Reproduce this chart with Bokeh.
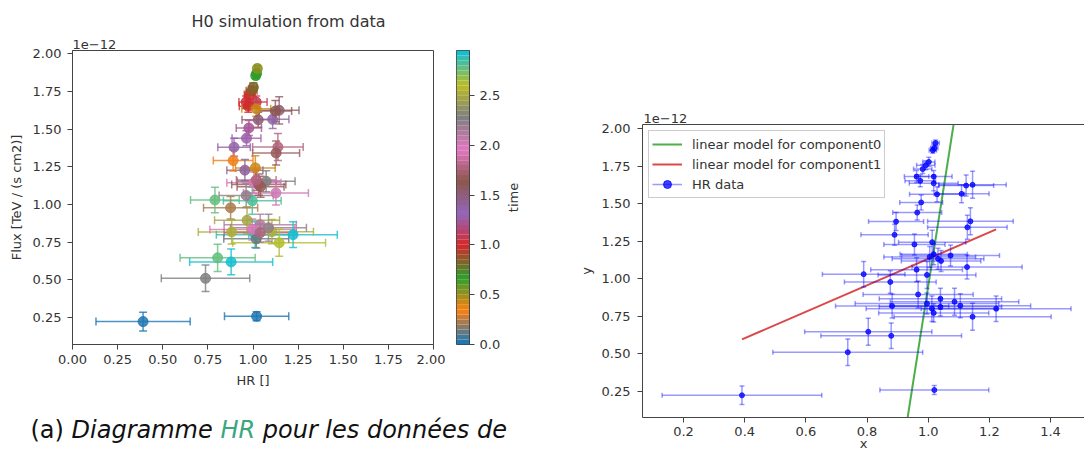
import numpy as np
from bokeh.plotting import figure
from bokeh.models import (FixedTicker, PrintfTickFormatter, Label, Legend, LegendItem,
                          LinearAxis, Range1d, ColumnDataSource, Title)
from bokeh.layouts import row, column
from bokeh.embed import file_html
from bokeh.resources import INLINE

# ---------------- data (flux in units of 1e-12 TeV / (s cm2)) ----------------
hr = [0.391, 1.020, 0.737, 0.804, 0.879, 1.145, 1.222, 1.012, 1.018, 0.882,
      1.105, 0.967, 1.040, 1.086, 0.996, 1.040, 0.876, 0.789, 0.996, 0.962,
      1.127, 1.073, 1.005, 1.032, 1.042, 1.018, 0.955, 1.013, 0.890, 0.895,
      1.138, 1.128, 0.964, 0.977, 1.029, 1.109, 1.145, 1.124, 1.018, 0.962,
      0.974, 1.018, 0.982, 0.992, 1.002, 1.015, 1.020, 1.024]
hr_err = [0.261, 0.178, 0.245, 0.208, 0.230, 0.257, 0.245, 0.215, 0.180, 0.185,
          0.230, 0.180, 0.200, 0.210, 0.235, 0.200, 0.150, 0.135, 0.160, 0.150,
          0.180, 0.160, 0.150, 0.150, 0.130, 0.110, 0.100, 0.110, 0.110, 0.090,
          0.140, 0.130, 0.080, 0.070, 0.090, 0.090, 0.110, 0.090, 0.060, 0.040,
          0.050, 0.080, 0.030, 0.030, 0.020, 0.012, 0.012, 0.012]
flux = [0.223, 0.258, 0.510, 0.646, 0.619, 0.746, 0.800, 0.800, 0.772, 0.818,
        0.820, 0.895, 0.866, 0.846, 0.834, 0.812, 0.978, 1.030, 1.025, 1.060,
        1.077, 1.154, 1.145, 1.132, 1.118, 1.163, 1.228, 1.243, 1.292, 1.380,
        1.382, 1.342, 1.440, 1.508, 1.562, 1.565, 1.625, 1.620, 1.680, 1.680,
        1.652, 1.635, 1.730, 1.755, 1.778, 1.855, 1.870, 1.903]
flux_err = [0.062, 0.030, 0.088, 0.090, 0.085, 0.090, 0.085, 0.085, 0.060, 0.080,
            0.080, 0.090, 0.070, 0.090, 0.070, 0.060, 0.075, 0.085, 0.090, 0.080,
            0.080, 0.070, 0.070, 0.070, 0.070, 0.070, 0.070, 0.080, 0.070, 0.060,
            0.090, 0.080, 0.050, 0.050, 0.050, 0.060, 0.090, 0.070, 0.040, 0.040,
            0.040, 0.050, 0.030, 0.030, 0.030, 0.020, 0.020, 0.020]
time = [0.00, 0.03, 2.30, 2.80, 2.95, 2.60, 2.93, 2.90, 0.10, 2.55,
        2.52, 2.45, 2.10, 2.20, 1.90, 1.75, 0.22, 2.75, 2.82, 2.20,
        2.00, 2.30, 1.90, 1.70, 1.65, 1.80, 1.45, 0.40, 0.35, 1.35,
        1.80, 1.70, 1.25, 1.20, 1.50, 1.35, 1.55, 1.60, 1.05, 1.00,
        0.98, 0.42, 0.95, 0.88, 0.80, 0.70, 0.65, 0.50]

comp0_x = [0.920, 1.095]
comp0_y = [-0.090, 2.183]
comp1_x = [0.391, 1.222]
comp1_y = [0.595, 1.328]

left_x_ticks = [0.0, 0.25, 0.5, 0.75, 1.0, 1.25, 1.5, 1.75, 2.0]
flux_ticks = [0.25, 0.5, 0.75, 1.0, 1.25, 1.5, 1.75, 2.0]
right_x_ticks = [0.2, 0.4, 0.6, 0.8, 1.0, 1.2, 1.4]
time_ticks = [0.0, 0.5, 1.0, 1.5, 2.0, 2.5]
time_max = 2.95
n_colors = 59
tab10 = ["#1f77b4", "#ff7f0e", "#2ca02c", "#d62728", "#9467bd",
         "#8c564b", "#e377c2", "#7f7f7f", "#bcbd22", "#17becf"]

# ---------------- colormap (linear segments through tab10) ----------------
def hex2rgb(h):
    return np.array([int(h[i:i + 2], 16) for i in (1, 3, 5)], dtype=float)

anchors = [hex2rgb(c) for c in tab10]
palette = []
for i in range(n_colors):
    s = i / (n_colors - 1) * (len(anchors) - 1)
    k = min(int(s), len(anchors) - 2)
    f = s - k
    c = anchors[k] * (1 - f) + anchors[k + 1] * f
    palette.append("#%02x%02x%02x" % tuple(int(round(v)) for v in c))

def time_color(t):
    idx = min(int(t / time_max * n_colors), n_colors - 1)
    return palette[idx]

FONT = "DejaVu Sans"
TXT = "#333333"
LINE = "#444444"

hr_a = np.array(hr); hre = np.array(hr_err)
fl_a = np.array(flux); fle = np.array(flux_err)
colors = [time_color(t) for t in time]

src = ColumnDataSource(dict(
    x=hr_a, y=fl_a, x0=hr_a - hre, x1=hr_a + hre, y0=fl_a - fle, y1=fl_a + fle,
    c=colors))


def style_axis(ax, fs="13px"):
    ax.axis_line_color = LINE
    ax.major_tick_line_color = LINE
    ax.minor_tick_line_color = None
    ax.major_tick_out = 5
    ax.major_tick_in = 0
    ax.major_label_text_font = FONT
    ax.major_label_text_font_size = fs
    ax.major_label_text_color = TXT
    ax.axis_label_text_font = FONT
    ax.axis_label_text_font_size = "13px"
    ax.axis_label_text_font_style = "normal"
    ax.axis_label_text_color = TXT


def style_title(t, size="13px"):
    t.text_font = FONT
    t.text_font_size = size
    t.text_font_style = "normal"
    t.text_color = TXT


def add_label(fig, x, y, text, size="13px", **kw):
    fig.add_layout(Label(x=x, y=y, x_units="screen", y_units="screen", text=text,
                         text_font=FONT, text_font_size=size,
                         text_color=kw.pop("text_color", TXT), **kw))

# ---------------- left: HR diagram coloured by time ----------------
left = figure(width=445, height=398, x_range=Range1d(0, 2), y_range=Range1d(0.071, 2.022),
              output_backend="svg", toolbar_location=None,
              min_border_left=72, min_border_right=12, min_border_top=50, min_border_bottom=54)
left.grid.visible = False
left.outline_line_color = LINE
for ax in (left.xaxis[0], left.yaxis[0]):
    style_axis(ax)
left.xaxis.ticker = FixedTicker(ticks=left_x_ticks)
left.yaxis.ticker = FixedTicker(ticks=flux_ticks)
left.xaxis.formatter = PrintfTickFormatter(format="%.2f")
left.yaxis.formatter = PrintfTickFormatter(format="%.2f")
left.xaxis.axis_label = "HR []"
left.yaxis.axis_label = "Flux [TeV / (s cm2)]"
left.xaxis.major_label_standoff = 5
left.xaxis.axis_label_standoff = 6
left.yaxis.major_label_standoff = 6
left.yaxis.axis_label_standoff = 6

# offset text (nearest the frame) and main title (outermost)
off_left = Title(text="1e\u221212", align="left", offset=0, standoff=4)
style_title(off_left)
left.add_layout(off_left, "above")
left.title.text = "H0 simulation from data"
left.title.align = "left"
left.title.offset = 119
left.title.standoff = 9
style_title(left.title, "16px")

left.segment(x0="x0", x1="x1", y0="y", y1="y", source=src, line_color="c", line_width=1.5, line_alpha=0.8)
left.segment(x0="x", x1="x", y0="y0", y1="y1", source=src, line_color="c", line_width=1.5, line_alpha=0.8)
left.scatter("x0", "y", source=src, marker="dash", angle=np.pi / 2, size=8, line_color="c", line_width=1.5, line_alpha=0.8)
left.scatter("x1", "y", source=src, marker="dash", angle=np.pi / 2, size=8, line_color="c", line_width=1.5, line_alpha=0.8)
left.scatter("x", "y0", source=src, marker="dash", size=8, line_color="c", line_width=1.5, line_alpha=0.8)
left.scatter("x", "y1", source=src, marker="dash", size=8, line_color="c", line_width=1.5, line_alpha=0.8)
left.scatter("x", "y", source=src, marker="circle", size=10, fill_color="c", line_color="c", fill_alpha=0.85, line_alpha=0.85)

# ---------------- colour bar ----------------
cb = figure(width=58, height=398, x_range=Range1d(0, 1), y_range=Range1d(0, time_max),
            output_backend="svg", toolbar_location=None, x_axis_location=None, y_axis_location="right",
            min_border_left=11, min_border_right=32, min_border_top=50, min_border_bottom=53)
cb.title.visible = False
cb.grid.visible = False
cb.outline_line_color = LINE
band_bottom = [i * time_max / n_colors for i in range(n_colors)]
band_top = [(i + 1) * time_max / n_colors for i in range(n_colors)]
cb.quad(left=0, right=1, bottom=band_bottom, top=band_top, fill_color=palette, line_color=None)
style_axis(cb.yaxis[0])
cb.yaxis.ticker = FixedTicker(ticks=time_ticks)
cb.yaxis.formatter = PrintfTickFormatter(format="%.1f")
cb.yaxis.major_label_standoff = 5

# colour-bar label, read bottom to top (title on the left side of a blank strip)
tfig = figure(width=57, height=398, output_backend="svg", toolbar_location=None,
              x_axis_location=None, y_axis_location=None,
              x_range=Range1d(0, 1), y_range=Range1d(0, 1),
              min_border_left=17, min_border_right=0, min_border_top=50, min_border_bottom=53,
              title="time", title_location="left")
tfig.grid.visible = False
tfig.outline_line_color = None
tfig.title.align = "center"
tfig.title.standoff = 0
style_title(tfig.title)

# ---------------- caption ----------------
cap = figure(width=560, height=57, output_backend="svg", toolbar_location=None,
             x_axis_location=None, y_axis_location=None, min_border=0,
             x_range=Range1d(0, 1), y_range=Range1d(0, 1))
cap.title.visible = False
cap.grid.visible = False
cap.outline_line_color = None
fs = 24
x0 = 30
yb = 26
add_label(cap, x0, yb, "(a)", size=f"{fs}px", text_color="#111111", text_baseline="alphabetic")
add_label(cap, x0 + 1.711 * fs, yb, "Diagramme", size=f"{fs}px", text_color="#111111",
          text_font_style="italic", text_baseline="alphabetic")
add_label(cap, x0 + 7.912 * fs, yb, "HR", size=f"{fs}px", text_color="#3ca67e",
          text_font_style="italic", text_baseline="alphabetic")
add_label(cap, x0 + 9.677 * fs, yb, "pour les données de", size=f"{fs}px", text_color="#111111",
          text_font_style="italic", text_baseline="alphabetic")

# ---------------- right: linear models ----------------
right = figure(width=524, height=455, x_range=Range1d(0.0658, 1.511), y_range=Range1d(0.075, 2.027),
               output_backend="svg", toolbar_location=None,
               min_border_left=82, min_border_right=0, min_border_top=124, min_border_bottom=38)
right.title.visible = False
right.grid.visible = False
right.outline_line_color = None
for ax in (right.xaxis[0], right.yaxis[0]):
    style_axis(ax)
right.xaxis.ticker = FixedTicker(ticks=right_x_ticks)
right.yaxis.ticker = FixedTicker(ticks=flux_ticks)
right.xaxis.formatter = PrintfTickFormatter(format="%.1f")
right.yaxis.formatter = PrintfTickFormatter(format="%.2f")
right.xaxis.major_label_standoff = 4
right.xaxis.axis_label = "x"
right.xaxis.axis_label_standoff = -3
right.yaxis.major_label_standoff = 7
right.yaxis.axis_label = "y"
right.yaxis.axis_label_standoff = 5
top_axis = LinearAxis(ticker=FixedTicker(ticks=[]), axis_line_color=LINE,
                      major_label_text_color=None, major_tick_line_color=None,
                      minor_tick_line_color=None)
right.add_layout(top_axis, "above")
off_right = Title(text="1e\u221212", align="left", offset=1, standoff=4)
style_title(off_right)
right.add_layout(off_right, "above")

g0 = right.line(comp0_x, comp0_y, line_color="#2ca02c", line_width=2, line_alpha=0.85)
g1 = right.line(comp1_x, comp1_y, line_color="#d62728", line_width=2, line_alpha=0.85)
hs = right.segment(x0="x0", x1="x1", y0="y", y1="y", source=src, line_color="#0000ff", line_width=1.5, line_alpha=0.4)
right.segment(x0="x", x1="x", y0="y0", y1="y1", source=src, line_color="#0000ff", line_width=1.5, line_alpha=0.4)
for xc, yc, ang in (("x0", "y", np.pi / 2), ("x1", "y", np.pi / 2), ("x", "y0", 0), ("x", "y1", 0)):
    right.scatter(xc, yc, source=src, marker="dash", angle=ang, size=5, line_color="#0000ff",
                  line_width=1.5, line_alpha=0.4)
mk = right.scatter("x", "y", source=src, marker="circle", size=5, fill_color="#0000ff",
                   line_color="#0000ff", fill_alpha=0.75, line_alpha=0.75)

legend = Legend(items=[LegendItem(label="linear model for component0", renderers=[g0]),
                       LegendItem(label="linear model for component1", renderers=[g1]),
                       LegendItem(label="HR data", renderers=[hs, mk])],
                location="top_left", margin=6, padding=3, spacing=0,
                glyph_width=30, glyph_height=20, label_height=20, label_standoff=10,
                label_text_font=FONT, label_text_font_size="13px", label_text_color=TXT,
                border_line_color="#cccccc", border_line_alpha=1.0,
                background_fill_color="white", background_fill_alpha=0.8)
right.add_layout(legend)

layout = row(column(row(left, cb, tfig), cap), right)
open("out.html", "w").write(file_html(layout, INLINE))
